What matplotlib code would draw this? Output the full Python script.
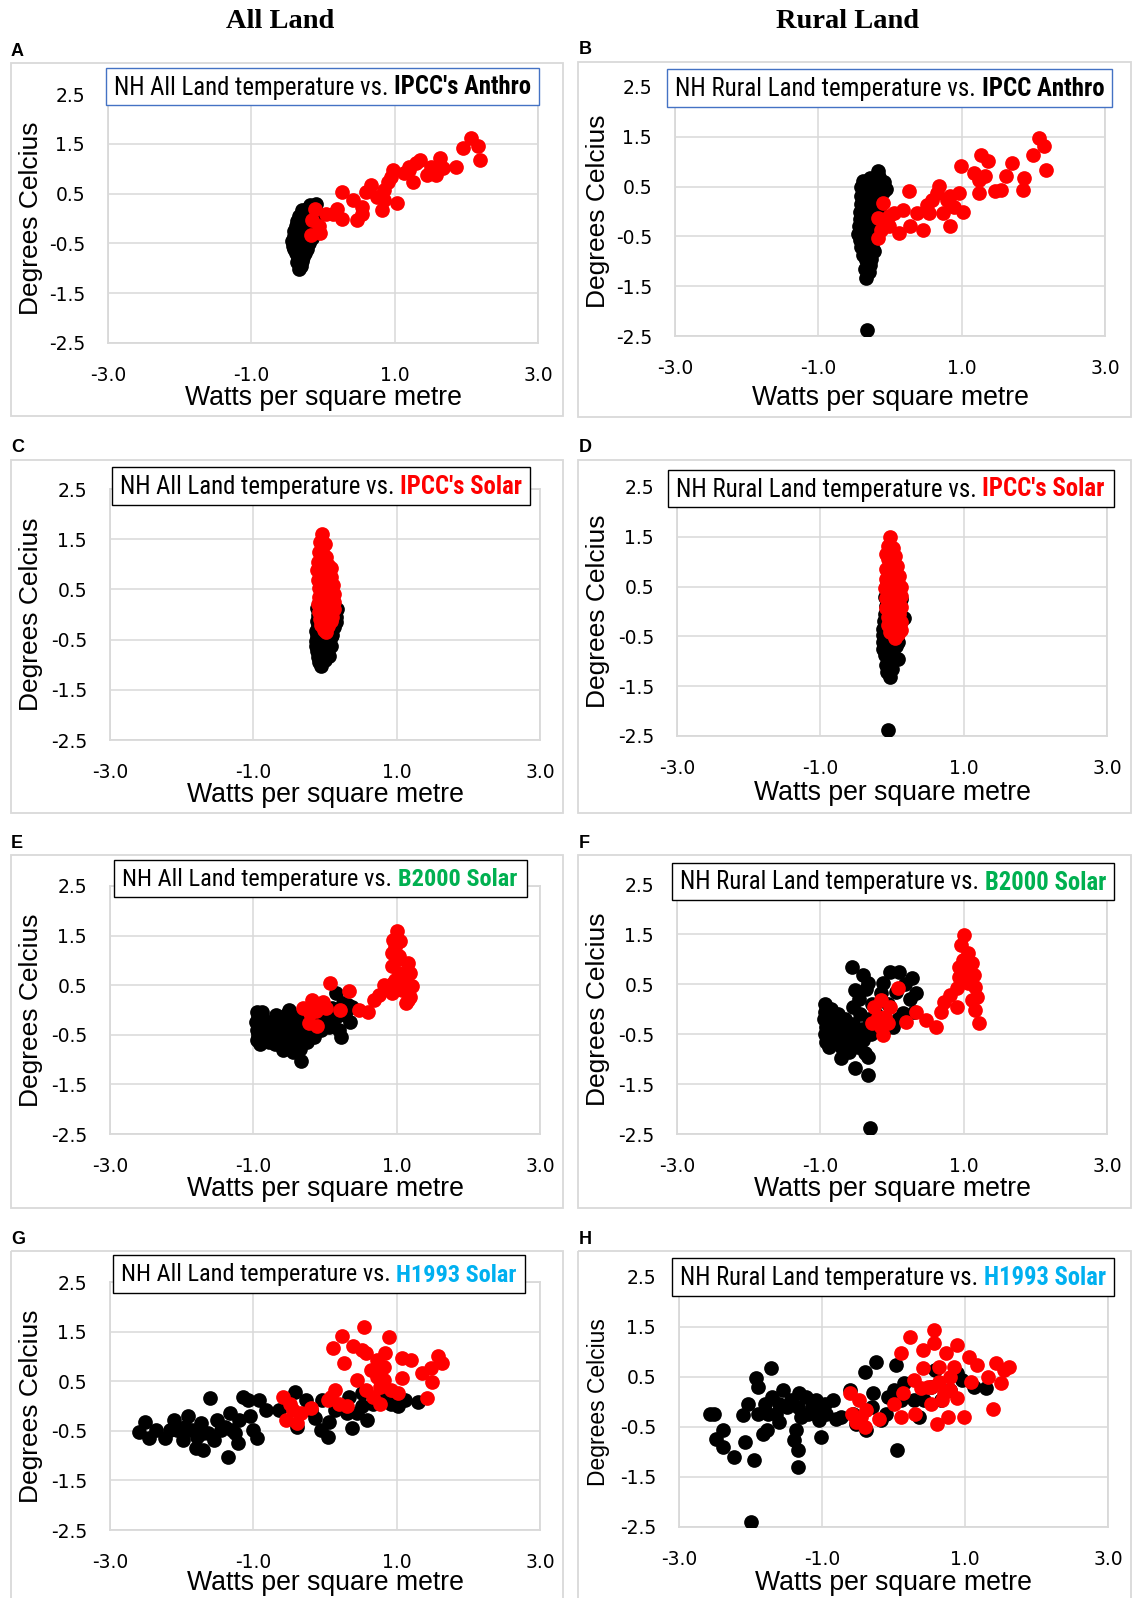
import os
import matplotlib
matplotlib.use("Agg")
import matplotlib.pyplot as plt
import matplotlib.font_manager as fm
from matplotlib.font_manager import FontProperties
from matplotlib.patches import Rectangle

plt.rcParams['axes.unicode_minus'] = False
plt.rcParams['font.family'] = ['Liberation Sans', 'DejaVu Sans']

# ---------------- DATA ----------------
A_black_x = [-0.33,-0.32,-0.30,-0.35,-0.28,-0.38,-0.33,-0.25,-0.40,-0.30,-0.22,-0.42,-0.35,-0.27,-0.20,-0.43,-0.37,-0.30,-0.23,-0.15,-0.41,-0.34,-0.26,-0.18,-0.40,-0.33,-0.25,-0.17,-0.38,-0.30,-0.22,-0.14,-0.36,-0.28,-0.20,-0.12,-0.33,-0.25,-0.17,-0.10,-0.30,-0.22,-0.14,-0.10,-0.18,-0.38,-0.36,-0.31]
A_black_y = [-1.02,-0.92,-0.85,-0.80,-0.78,-0.70,-0.68,-0.70,-0.62,-0.60,-0.62,-0.55,-0.52,-0.50,-0.50,-0.45,-0.42,-0.40,-0.42,-0.40,-0.35,-0.32,-0.30,-0.33,-0.25,-0.22,-0.20,-0.22,-0.15,-0.12,-0.10,-0.12,-0.05,-0.02,0.00,-0.03,0.05,0.08,0.10,0.06,0.18,0.20,0.22,0.30,0.28,-0.58,-0.88,-0.95]
A_red_x = [-0.17,-0.04,-0.16,-0.11,0.04,0.19,0.27,0.27,0.42,0.47,0.55,0.60,0.67,0.75,0.82,0.85,0.90,0.97,1.03,0.95,1.13,1.20,1.25,1.30,1.35,1.45,1.58,1.63,1.68,1.86,1.96,2.06,2.16,2.19,0.85,0.55,0.14,-0.06,1.20,1.50]
A_red_y = [-0.33,-0.30,-0.03,0.20,0.10,0.20,0.00,0.54,0.37,-0.03,0.24,0.54,0.67,0.44,0.17,0.57,0.74,0.98,0.31,0.84,0.91,0.98,0.74,1.11,1.18,0.88,0.88,1.21,1.01,1.04,1.41,1.61,1.45,1.18,0.37,0.10,0.10,-0.16,1.04,1.04]

B_black_x = [-0.32,-0.33,-0.30,-0.35,-0.28,-0.34,-0.26,-0.38,-0.30,-0.23,-0.40,-0.33,-0.25,-0.42,-0.36,-0.28,-0.44,-0.38,-0.30,-0.22,-0.43,-0.36,-0.28,-0.20,-0.42,-0.34,-0.26,-0.18,-0.42,-0.33,-0.25,-0.15,-0.40,-0.32,-0.24,-0.12,-0.41,-0.33,-0.24,-0.10,-0.40,-0.32,-0.22,-0.05,-0.38,-0.28,-0.17,-0.15,-0.08]
B_black_y = [-2.37,-1.33,-1.22,-1.15,-1.08,-0.98,-0.95,-0.88,-0.82,-0.80,-0.72,-0.68,-0.65,-0.58,-0.52,-0.50,-0.45,-0.40,-0.38,-0.40,-0.30,-0.25,-0.22,-0.25,-0.15,-0.10,-0.08,-0.10,0.00,0.05,0.08,0.05,0.15,0.20,0.22,0.18,0.32,0.35,0.38,0.40,0.50,0.55,0.55,0.45,0.62,0.68,0.82,0.70,0.60]
B_red_x = [-0.17,-0.10,-0.17,-0.12,-0.02,0.06,0.13,0.18,0.26,0.28,0.38,0.46,0.51,0.59,0.66,0.69,0.74,0.79,0.84,0.89,0.96,0.99,1.02,1.17,1.24,1.27,1.32,1.37,1.47,1.55,1.62,1.70,1.85,1.87,2.00,2.08,2.15,2.18,-0.02,0.54,0.84,1.24]
B_red_y = [-0.53,0.17,-0.13,-0.37,-0.30,-0.03,-0.43,0.04,0.41,-0.30,-0.03,-0.37,0.14,0.24,0.37,0.51,-0.03,0.24,-0.30,0.10,0.37,0.91,0.00,0.78,0.37,1.14,0.71,1.01,0.41,0.44,0.71,0.98,0.44,0.67,1.14,1.48,1.31,0.84,-0.10,-0.03,0.31,0.64]

C_black_x = [-0.05,-0.08,0.00,-0.10,-0.03,0.05,-0.11,-0.04,0.04,-0.12,-0.05,0.03,0.08,-0.12,-0.06,0.02,0.08,-0.11,-0.04,0.05,0.10,-0.12,-0.05,0.03,0.12,-0.10,-0.02,0.07,0.15,-0.11,-0.03,0.06,0.16,-0.10,-0.01,0.09,0.17,-0.11,0.02,0.12,-0.07,0.01]
C_black_y = [-1.03,-0.95,-0.90,-0.85,-0.80,-0.82,-0.72,-0.70,-0.68,-0.62,-0.60,-0.58,-0.62,-0.52,-0.50,-0.48,-0.45,-0.42,-0.40,-0.38,-0.40,-0.32,-0.30,-0.28,-0.25,-0.22,-0.20,-0.18,-0.15,-0.12,-0.10,-0.08,-0.05,0.00,0.02,0.04,0.10,0.12,0.10,0.15,-0.78,-0.72]
C_red_x = [-0.04,-0.07,0.00,-0.09,-0.03,0.02,-0.10,-0.04,0.04,0.08,-0.11,-0.05,0.02,0.09,-0.10,-0.03,0.05,0.11,-0.09,-0.02,0.06,0.12,-0.08,0.00,0.08,0.13,-0.10,-0.02,0.06,0.12,-0.09,0.00,0.08,-0.07,0.02,0.09,-0.05,0.04,-0.02,0.02,0.10]
C_red_y = [1.61,1.45,1.40,1.25,1.20,1.15,1.05,1.00,0.98,0.92,0.88,0.82,0.80,0.75,0.68,0.65,0.62,0.58,0.52,0.48,0.45,0.40,0.35,0.32,0.30,0.25,0.20,0.18,0.15,0.10,0.05,0.02,0.00,-0.08,-0.10,-0.12,-0.20,-0.22,-0.30,-0.35,-0.05]

D_black_x = [-0.06,-0.03,-0.07,0.00,-0.09,0.08,-0.04,-0.10,0.02,-0.12,-0.05,0.05,-0.13,-0.06,0.03,-0.12,-0.05,0.06,-0.13,-0.04,0.08,-0.11,0.02,0.17,0.12,-0.10,0.04,0.10,-0.08,0.12,-0.10,-0.07,0.05,0.08]
D_black_y = [-2.37,-1.31,-1.22,-1.15,-1.08,-0.95,-1.00,-0.88,-0.85,-0.75,-0.72,-0.70,-0.62,-0.58,-0.55,-0.48,-0.45,-0.42,-0.35,-0.30,-0.28,-0.20,-0.18,-0.14,-0.10,-0.05,0.00,0.10,0.12,0.25,0.30,0.60,0.40,-0.62]
D_red_x = [-0.03,-0.06,0.01,-0.08,0.04,-0.05,0.00,0.07,-0.09,-0.02,0.06,0.10,-0.08,0.00,0.08,0.12,-0.10,-0.02,0.06,0.13,-0.09,0.00,0.08,0.12,-0.08,0.02,0.10,-0.06,0.04,0.12,-0.05,0.05,0.12,-0.03,0.04,0.08]
D_red_y = [1.49,1.32,1.28,1.15,1.12,1.05,0.98,0.92,0.85,0.82,0.78,0.72,0.66,0.62,0.58,0.50,0.48,0.42,0.38,0.32,0.28,0.22,0.18,0.10,0.08,0.02,-0.05,-0.12,-0.15,-0.22,-0.28,-0.32,-0.38,-0.42,-0.54,-0.45]

E_black_x = [-0.95,-0.93,-0.96,-0.92,-0.95,-0.93,-0.95,-0.90,-0.88,-0.85,-0.85,-0.82,-0.78,-0.75,-0.72,-0.70,-0.65,-0.62,-0.60,-0.58,-0.55,-0.52,-0.50,-0.48,-0.45,-0.42,-0.40,-0.38,-0.35,-0.33,-0.32,-0.30,-0.28,-0.25,-0.20,-0.15,-0.10,-0.05,0.00,0.05,0.10,0.15,0.15,0.20,0.22,0.25,0.28,0.32,0.35,0.37,-0.50,-0.68]
E_black_y = [-0.05,-0.15,-0.25,-0.32,-0.40,-0.50,-0.60,-0.68,-0.05,-0.20,-0.45,-0.58,-0.65,-0.30,-0.50,-0.68,-0.25,-0.45,-0.62,-0.80,-0.10,-0.35,-0.55,-0.72,-0.85,-0.20,-0.40,-0.62,-0.78,-1.02,-0.05,-0.30,-0.50,-0.65,-0.40,-0.55,-0.25,-0.40,-0.20,-0.35,0.05,0.34,-0.15,-0.40,-0.55,0.15,-0.10,0.10,-0.25,0.07,0.00,-0.10]
E_red_x = [0.07,0.33,-0.31,-0.18,-0.03,-0.23,-0.11,-0.13,-0.21,0.02,0.21,0.47,0.60,0.68,0.75,0.83,0.93,0.95,1.01,0.95,1.05,0.93,1.03,1.16,0.93,1.03,1.18,0.98,1.11,1.21,1.16,1.18,1.13,1.08,1.03,0.98]
E_red_y = [0.54,0.38,0.04,0.21,0.17,-0.26,-0.33,-0.03,-0.06,0.04,-0.01,0.01,-0.05,0.21,0.31,0.51,0.34,0.54,1.59,1.42,1.39,1.15,1.08,0.95,0.88,0.75,0.75,0.61,0.54,0.48,0.21,0.27,0.14,0.41,1.02,1.28]

F_black_x = [-0.31,-0.94,-0.93,-0.95,-0.92,-0.94,-0.92,-0.88,-0.85,-0.84,-0.82,-0.80,-0.76,-0.74,-0.72,-0.71,-0.70,-0.66,-0.64,-0.62,-0.60,-0.56,-0.55,-0.54,-0.52,-0.51,-0.51,-0.48,-0.46,-0.44,-0.42,-0.41,-0.40,-0.38,-0.36,-0.33,-0.33,-0.33,-0.32,-0.30,-0.28,-0.25,-0.22,-0.15,-0.13,-0.10,-0.05,-0.03,0.02,0.05,0.10,0.15,0.18,0.25,0.28,0.33,0.30,0.08]
F_black_y = [-2.37,0.10,-0.05,-0.20,-0.35,-0.50,-0.65,-0.75,0.00,-0.25,-0.45,-0.60,-0.10,-0.35,-0.55,-0.98,-0.78,-0.20,-0.45,-0.65,-0.85,0.85,0.05,-0.30,-0.55,-1.18,0.38,-0.75,0.20,-0.10,-0.40,0.69,-0.62,-0.88,0.40,0.52,-1.32,-0.95,-0.20,-0.50,0.10,-0.35,-0.10,0.32,0.52,-0.40,0.10,0.75,-0.35,0.35,0.75,-0.08,0.50,0.20,0.62,0.32,-0.05,-0.20]
F_red_x = [0.08,-0.25,-0.15,-0.03,-0.10,-0.28,-0.15,-0.13,-0.20,-0.05,0.20,0.33,0.48,0.61,0.68,0.73,0.81,0.91,0.91,0.94,1.00,0.96,1.06,0.99,1.11,1.14,1.01,1.16,1.06,1.19,1.16,1.21,1.11,0.99,0.94]
F_red_y = [0.42,0.05,0.18,0.05,-0.15,-0.28,-0.35,-0.52,-0.15,-0.28,-0.25,-0.05,-0.22,-0.35,-0.05,0.15,0.28,0.05,0.42,0.85,1.49,1.29,1.12,0.99,0.92,0.69,0.65,0.45,0.52,0.25,-0.02,-0.28,0.18,0.82,0.65]

G_black_x = [-2.59,-2.51,-2.46,-2.36,-2.23,-2.11,-2.06,-1.98,-1.91,-1.85,-1.80,-1.78,-1.73,-1.70,-1.63,-1.60,-1.55,-1.50,-1.45,-1.35,-1.32,-1.30,-1.22,-1.20,-1.15,-1.07,-1.05,-1.00,-0.95,-0.92,-0.82,-0.64,-0.49,-0.42,-0.39,-0.27,-0.19,-0.14,-0.06,-0.04,0.04,0.06,0.14,0.21,0.34,0.37,0.44,0.52,0.59,0.67,0.82,0.92,1.02,1.12,1.30,0.52,0.31,-1.40,-1.70,-2.16,-1.96,-1.25]
G_black_y = [-0.52,-0.32,-0.65,-0.48,-0.65,-0.28,-0.48,-0.68,-0.21,-0.48,-0.85,-0.62,-0.35,-0.89,-0.55,0.16,-0.68,-0.28,-0.48,-1.02,-0.15,-0.48,-0.75,-0.28,0.19,0.12,-0.21,-0.48,-0.65,0.12,-0.08,-0.08,-0.01,0.29,-0.42,0.12,-0.08,-0.25,-0.48,0.12,-0.62,-0.32,-0.08,-0.01,0.19,-0.45,-0.15,-0.01,-0.28,0.05,0.12,0.05,-0.01,0.12,0.09,0.26,-0.15,-0.42,-0.55,-0.48,-0.42,-0.55]
G_red_x = [-0.59,-0.54,-0.49,-0.44,-0.39,-0.34,-0.19,0.04,0.09,0.14,0.19,0.31,0.11,0.24,0.26,0.39,0.44,0.54,0.57,0.64,0.67,0.72,0.77,0.77,0.82,0.84,0.90,0.92,1.02,1.07,1.07,1.20,1.35,1.42,1.48,1.50,1.58,1.63,0.57,0.72,0.82,0.52]
G_red_y = [0.19,-0.28,0.05,-0.08,-0.35,-0.15,-0.05,0.12,0.19,0.32,0.05,-0.01,1.16,1.41,0.86,1.20,0.53,1.60,1.06,0.73,0.19,0.93,0.39,0.05,0.79,1.06,1.40,0.32,0.26,0.96,0.56,0.93,0.66,0.16,0.76,0.49,1.00,0.86,0.32,0.59,0.53,1.13]

H_black_x = [-2.56,-2.51,-2.48,-2.38,-2.38,-2.23,-2.10,-2.08,-2.03,-1.95,-1.93,-1.90,-1.90,-1.82,-1.80,-1.77,-1.72,-1.70,-1.65,-1.60,-1.55,-1.49,-1.44,-1.39,-1.37,-1.34,-1.34,-1.32,-1.29,-1.22,-1.19,-1.14,-1.09,-1.04,-1.01,-0.96,-0.94,-0.84,-0.81,-0.61,-0.56,-0.53,-0.40,-0.38,-0.30,-0.28,-0.25,-0.18,-0.10,-0.08,0.00,0.03,0.05,0.10,0.15,0.28,0.36,0.43,0.53,0.58,0.66,0.79,0.89,0.96,1.12,1.29,-2.00,-1.09,-0.73,-1.34,-1.60,-1.75]
H_black_y = [-0.23,-0.23,-0.73,-0.56,-0.89,-1.10,-0.26,-0.79,-0.03,-1.16,0.48,-0.23,0.31,-0.63,-0.03,-0.56,0.68,0.11,-0.23,-0.39,0.24,-0.09,0.04,-0.76,-0.56,-1.30,-0.96,0.18,-0.29,0.11,-0.23,-0.09,0.04,-0.36,-0.69,-0.03,-0.23,0.04,-0.33,0.24,-0.23,-0.43,0.61,-0.56,-0.09,0.18,0.81,-0.36,-0.23,0.11,0.24,0.74,-0.96,0.04,0.38,0.04,-0.29,0.04,0.31,0.64,0.04,0.24,0.58,0.44,0.31,0.28,-2.40,-0.23,-0.29,-0.09,-0.03,-0.23]
H_red_x = [-0.61,-0.58,-0.53,-0.48,-0.46,-0.40,-0.38,-0.20,0.00,0.10,0.10,0.13,0.23,0.28,0.30,0.38,0.41,0.41,0.53,0.53,0.56,0.56,0.61,0.63,0.63,0.71,0.74,0.76,0.79,0.84,0.89,0.89,0.99,1.06,1.09,1.17,1.32,1.39,1.44,1.50,1.55,1.62,0.68,0.79,0.48]
H_red_y = [0.18,-0.23,-0.39,0.04,-0.29,-0.49,-0.16,-0.33,-0.03,0.98,-0.29,0.18,1.31,0.44,-0.23,0.28,1.05,0.68,-0.03,0.31,1.45,1.18,-0.43,0.71,0.41,0.18,0.98,-0.29,0.51,0.71,1.15,0.08,-0.29,0.91,0.41,0.74,0.51,-0.13,0.78,0.38,0.64,0.71,0.04,0.24,0.31]

x_ticks = [-3.0, -1.0, 1.0, 3.0]
y_ticks = [-2.5, -1.5, -0.5, 0.5, 1.5, 2.5]
col_headings = ["All Land", "Rural Land"]
panel_letters = ["A", "B", "C", "D", "E", "F", "G", "H"]
title_prefix = ["NH All Land temperature vs. ", "NH Rural Land temperature vs. "]
title_suffix = ["IPCC's Anthro", "IPCC Anthro", "IPCC's Solar", "IPCC's Solar",
                "B2000 Solar", "B2000 Solar", "H1993 Solar", "H1993 Solar"]
suffix_colors = ["#000000", "#000000", "#FF0000", "#FF0000",
                 "#00B050", "#00B050", "#00B0F0", "#00B0F0"]
x_label = "Watts per square metre"
y_label = "Degrees Celcius"

series = [
    (A_black_x, A_black_y, A_red_x, A_red_y),
    (B_black_x, B_black_y, B_red_x, B_red_y),
    (C_black_x, C_black_y, C_red_x, C_red_y),
    (D_black_x, D_black_y, D_red_x, D_red_y),
    (E_black_x, E_black_y, E_red_x, E_red_y),
    (F_black_x, F_black_y, F_red_x, F_red_y),
    (G_black_x, G_black_y, G_red_x, G_red_y),
    (H_black_x, H_black_y, H_red_x, H_red_y),
]

# ---------------- narrow fonts (regular + bold) for the chart titles ----------------
def _pick_narrow_pair():
    groups = {}
    skip_words = ("italic", "oblique", "semibold", "extrabold", "black", "light",
                  "thin", "medium", "semicondensed", "extracondensed", "ultracondensed",
                  "demi", "heavy")
    for f in fm.fontManager.ttflist:
        b = os.path.splitext(os.path.basename(f.fname))[0].lower()
        if not ("narrow" in b or "condensed" in b):
            continue
        if any(w in b for w in skip_words):
            continue
        kind = "bold" if "bold" in b else "regular"
        key = b.replace("bold", "").replace("regular", "").strip("-_ ")
        groups.setdefault(key, {})[kind] = f.fname
    prefs = ["liberationsansnarrow", "arialnarrow", "robotocondensed", "notosans",
             "opensans", "dejavusanscondensed"]
    complete = {k: v for k, v in groups.items() if "regular" in v and "bold" in v}
    for p in prefs:
        for k, v in complete.items():
            if p in k.replace("-", "").replace("_", ""):
                return v["regular"], v["bold"]
    for k, v in complete.items():
        return v["regular"], v["bold"]
    return None, None

reg_path, bold_path = _pick_narrow_pair()

def title_fp(bold):
    if reg_path is not None:
        return FontProperties(fname=bold_path if bold else reg_path, size=17)
    return FontProperties(family=["Liberation Sans"], weight="bold" if bold else "normal", size=17)

# ---------------- LAYOUT (pixels) ----------------
W, H = 1132, 1598
fig = plt.figure(figsize=(W / 100, H / 100), dpi=100)
fig.patch.set_facecolor("white")

axes_px = [(108, 538, 94, 343), (675, 1105, 87, 336),
           (110, 540, 489, 740), (677, 1107, 487, 736),
           (110, 540, 886, 1134), (677, 1107, 884, 1134),
           (110, 540, 1282, 1530), (679, 1108, 1277, 1527)]
title_px = [(106, 539, 68, 105), (667, 1112, 69, 107),
            (112, 530, 467, 505), (668, 1114, 470, 507),
            (114, 527, 860, 897), (672, 1114, 863, 900),
            (113, 525, 1255, 1293), (672, 1114, 1258, 1296)]
border_px = [(11, 563, 63, 416), (578, 1131, 62, 417),
             (11, 563, 460, 813), (578, 1131, 460, 813),
             (11, 563, 855, 1208), (578, 1131, 855, 1208),
             (11, 563, 1251, 1640), (578, 1131, 1251, 1640)]
letter_y = [52, 50, 447, 447, 844, 844, 1239, 1239]
letter_x = [11, 579]
ylabel_x = [31, 598]
xlabel_y = [398, 398, 795, 793, 1189, 1189, 1583, 1583]
ylabel_size = [19, 19, 19, 19, 19, 19, 19, 16.5]

overlay = fig.add_axes([0, 0, 1, 1], zorder=10)
overlay.set_xlim(0, W)
overlay.set_ylim(H, 0)
overlay.axis("off")
overlay.patch.set_alpha(0)

grid_c = "#D9D9D9"
title_pairs = []

for i in range(8):
    col = i % 2
    x0, x1, yt, yb = axes_px[i]
    ax = fig.add_axes([x0 / W, 1 - yb / H, (x1 - x0) / W, (yb - yt) / H], zorder=1)
    bx, by, rx, ry = series[i]
    ax.scatter(bx, by, s=112, color="black", linewidths=0, zorder=3)
    ax.scatter(rx, ry, s=112, color="#FF0000", linewidths=0, zorder=4)
    ax.set_xlim(-3, 3)
    ax.set_ylim(-2.5, 2.5)
    ax.set_xticks(x_ticks)
    ax.set_yticks(y_ticks)
    ax.set_xticklabels([f"{v:.1f}" for v in x_ticks])
    ax.set_yticklabels([f"{v:.1f}" for v in y_ticks])
    ax.tick_params(length=0, labelsize=13.5, colors="#000000")
    for lab in ax.get_xticklabels() + ax.get_yticklabels():
        lab.set_family(["DejaVu Sans"])
    ax.tick_params(axis="x", pad=16.5)
    ax.tick_params(axis="y", pad=16.5)
    ax.grid(True, color=grid_c, linewidth=1.1, zorder=0)
    ax.set_axisbelow(True)
    for sp in ax.spines.values():
        sp.set_color(grid_c)
        sp.set_linewidth(1.3)
    ax.set_xlabel(x_label, fontsize=19.2, va="center")
    ax.xaxis.set_label_coords((x0 + x1) / 2, xlabel_y[i], transform=overlay.transData)
    ax.set_ylabel(y_label, fontsize=ylabel_size[i], va="center", rotation=90)
    ax.yaxis.set_label_coords(ylabel_x[col], (yt + yb) / 2, transform=overlay.transData)

    # panel border
    bx0, bx1, by0, by1 = border_px[i]
    overlay.add_patch(Rectangle((bx0, by0), bx1 - bx0, by1 - by0, fill=False,
                                edgecolor=grid_c, linewidth=1.3, zorder=1))
    # panel letter
    overlay.text(letter_x[col], letter_y[i], panel_letters[i], fontsize=13,
                 fontweight="bold", ha="left", va="center")
    # title box
    tx0, tx1, ty0, ty1 = title_px[i]
    ec = "#4472C4" if i < 2 else "#000000"
    overlay.add_patch(Rectangle((tx0, ty0), tx1 - tx0, ty1 - ty0, facecolor="white",
                                edgecolor=ec, linewidth=1.0, zorder=5))
    t1 = overlay.text(tx0 + 8, (ty0 + ty1) / 2 + 1, title_prefix[col],
                      fontproperties=title_fp(False), ha="left", va="center", zorder=6)
    t2 = overlay.annotate(title_suffix[i], xy=(1, 0), xycoords=t1, ha="left", va="bottom",
                          fontproperties=title_fp(True), color=suffix_colors[i], zorder=6)
    title_pairs.append((t1, t2, tx1 - tx0 - 17))

# fit the title text to its box width
renderer = fig.canvas.get_renderer()
for t1, t2, target in title_pairs:
    w = t1.get_window_extent(renderer).width + t2.get_window_extent(renderer).width
    size = min(20, 17 * target / w)
    t1.set_fontsize(size)
    t2.set_fontsize(size)

# column headings
overlay.text(280, 22, col_headings[0], fontsize=20.5, fontweight="bold",
             family=["Liberation Serif", "DejaVu Serif"], ha="center", va="center")
overlay.text(848, 22, col_headings[1], fontsize=20.5, fontweight="bold",
             family=["Liberation Serif", "DejaVu Serif"], ha="center", va="center")

fig.savefig("out.png", dpi=100)
